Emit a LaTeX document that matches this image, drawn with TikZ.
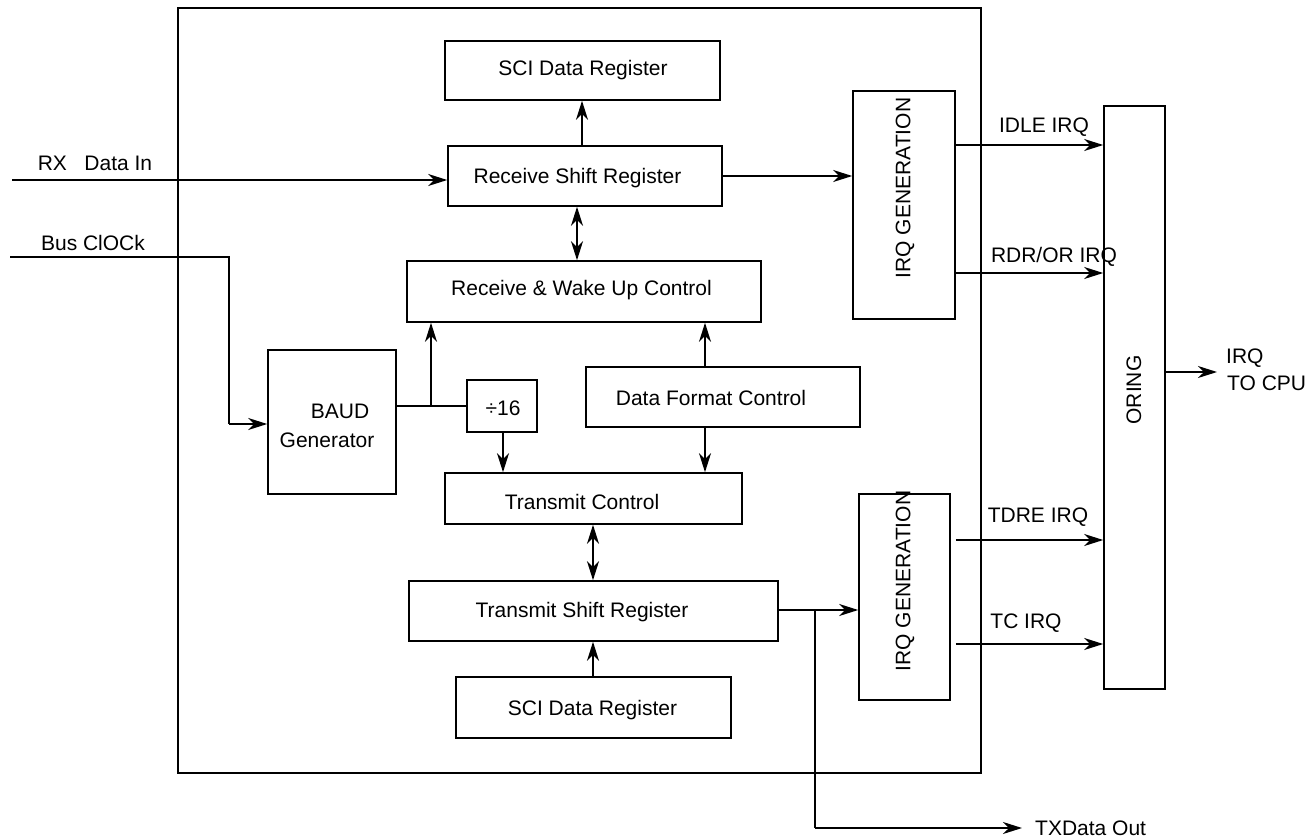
\documentclass[tikz,border=0pt]{standalone}
\usepackage{fontspec}
\setmainfont{Liberation Sans}
\usetikzlibrary{arrows.meta}
\begin{document}
\begin{tikzpicture}[x=1pt,y=-1pt,
  blk/.style={draw,line width=1.6pt,inner sep=0pt},
  txt/.style={inner sep=0pt,font=\fontsize{21}{25}\selectfont},
  wire/.style={line width=1.6pt},
  tip/.tip={Stealth[length=19pt,width=12pt,inset=6pt]},
  arr/.style={line width=1.6pt,-tip},
  darr/.style={line width=1.6pt,tip-tip}]
\useasboundingbox (0,0) rectangle (1307,838);
\fill[white] (0,0) rectangle (1307,838);
% outer frame
\node[blk,minimum width=803pt,minimum height=765pt] (outer) at (579.5,390.5) {};
% boxes
\node[blk,minimum width=275pt,minimum height=59pt] (sci1) at (582.5,70.5) {};
\node[blk,minimum width=274pt,minimum height=60pt] (rsr) at (585,176) {};
\node[blk,minimum width=354pt,minimum height=61pt] (rw) at (584,291.5) {};
\node[blk,minimum width=128pt,minimum height=144pt] (baud) at (332,422) {};
\node[blk,minimum width=70pt,minimum height=52pt] (div) at (502,406) {};
\node[blk,minimum width=274pt,minimum height=60pt] (dfc) at (723,397) {};
\node[blk,minimum width=297pt,minimum height=51pt] (tc) at (593.5,498.5) {};
\node[blk,minimum width=369pt,minimum height=60pt] (tsr) at (593.5,611) {};
\node[blk,minimum width=275pt,minimum height=61pt] (sci2) at (593.5,707.5) {};
\node[blk,minimum width=102pt,minimum height=228pt] (irq1) at (904,205) {};
\node[blk,minimum width=91pt,minimum height=206pt] (irq2) at (904.5,597) {};
\node[blk,minimum width=61pt,minimum height=583pt] (oring) at (1134.5,397.5) {};
% box texts
\node[txt] (tsci1) at (583,70) {SCI Data Register};
\node[txt] (trsr) at (577.5,178) {Receive Shift Register};
\node[txt] (trw) at (581.5,290) {Receive \& Wake Up Control};
\node[txt] (tbaud1) at (340,411) {BAUD};
\node[txt] (tbaud2) at (327,440) {Generator};
\node[txt] (tdiv) at (503,408) {÷16};
\node[txt] (tdfc) at (711,398) {Data Format Control};
\node[txt] (ttc) at (582,502) {Transmit Control};
\node[txt] (ttsr) at (582,612) {Transmit Shift Register};
\node[txt] (tsci2) at (592.5,710) {SCI Data Register};
\node[txt,rotate=90] (tirq1) at (905,188) {IRQ GENERATION};
\node[txt,rotate=90] (tirq2) at (905,581) {IRQ GENERATION};
\node[txt,rotate=90] (toring) at (1134,390) {ORING};
% external coordinates
\coordinate (rxin) at (12,180);
\coordinate (clkin) at (10,257);
\coordinate (clkbend) at (229,257);
\coordinate (clkdown) at (229,424);
\coordinate (baudj) at (431,406);
\coordinate (txj) at (815,610);
\coordinate (txbend) at (815,828);
\coordinate (txout) at (1022,828);
\coordinate (cpu) at (1217,372);
% labels
\node[txt] (lrx) at (95,163) {RX\ \ \ Data In};
\node[txt] (lclk) at (93,243) {Bus ClOCk};
\node[txt] (lidle) at (1044,127) {IDLE IRQ};
\node[txt] (lrdr) at (1054,257) {RDR/OR IRQ};
\node[txt] (ltdre) at (1038,517) {TDRE IRQ};
\node[txt] (ltc) at (1026,623) {TC IRQ};
\node[txt,anchor=west] (ltx) at (1035,828) {TXData Out};
\node[txt,anchor=west] (lirq) at (1226,358) {IRQ};
\node[txt,anchor=west] (lcpu) at (1227,383) {TO CPU};
% connectors
\draw[arr] (rxin) -- (rxin -| rsr.west);
\draw[wire] (clkin) -- (clkbend) -- (clkdown);
\draw[arr] (clkdown) -- (clkdown -| baud.west);
\draw[wire] (baudj -| baud.east) -- (baudj -| div.west);
\draw[arr] (baudj) -- (baudj |- rw.south);
\draw[arr] (div.south -| tdiv) -- (tdiv |- tc.north);
\draw[arr] (dfc.north -| 705,0) -- (rw.south -| 705,0);
\draw[arr] (dfc.south -| 705,0) -- (tc.north -| 705,0);
\draw[arr] (rsr.north -| 582,0) -- (sci1.south -| 582,0);
\draw[darr] (rsr.south -| 577,0) -- (rw.north -| 577,0);
\draw[darr] (tc.south -| 593,0) -- (tsr.north -| 593,0);
\draw[arr] (sci2.north -| 593,0) -- (tsr.south -| 593,0);
\draw[arr] (rsr.east |- 0,176) -- (irq1.west |- 0,176);
\draw[arr] (irq1.east |- 0,145) -- (oring.west |- 0,145);
\draw[arr] (irq1.east |- 0,273) -- (oring.west |- 0,273);
\draw[arr] (oring.east |- cpu) -- (cpu);
\draw[arr] (tsr.east |- txj) -- (irq2.west |- txj);
\draw[wire] (txj) -- (txbend);
\draw[arr] (txbend) -- (txout);
\draw[arr] ([xshift=5pt]irq2.east |- 0,540) -- (oring.west |- 0,540);
\draw[arr] ([xshift=5pt]irq2.east |- 0,644) -- (oring.west |- 0,644);
\end{tikzpicture}
\end{document}
